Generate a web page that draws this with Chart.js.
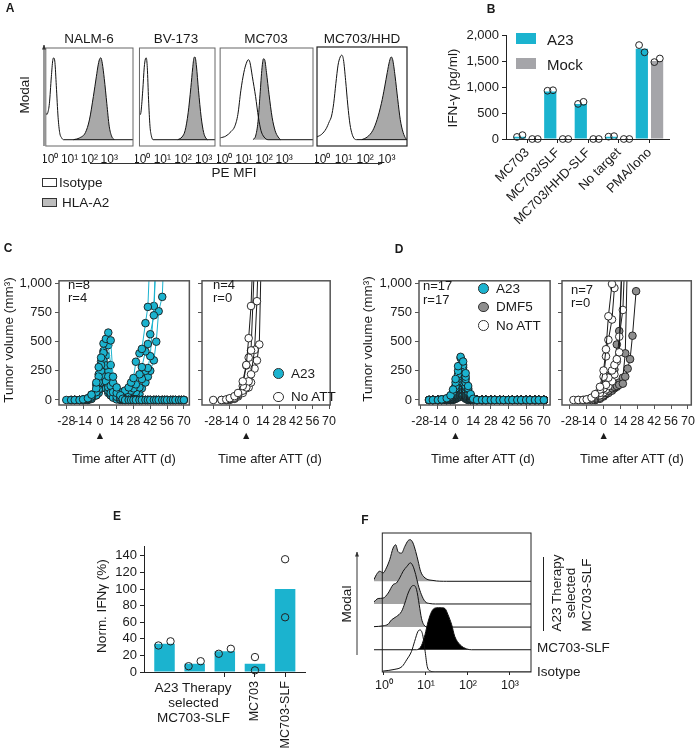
<!DOCTYPE html>
<html>
<head>
<meta charset="utf-8">
<script src="https://cdn.jsdelivr.net/npm/chart.js@4.4.1/dist/chart.umd.min.js"></script>
<style>
  body { margin: 0; background: #fff; }
  #fig { position: relative; width: 700px; height: 750px; overflow: hidden;
         font-family: "Liberation Sans", Arial, Helvetica, sans-serif; color: #1a1a1a; }
  #fig canvas { position: absolute; }
  .t { position: absolute; white-space: nowrap; line-height: 1; }
  .sw { position: absolute; box-sizing: border-box; }
</style>
</head>
<body>
<div id="fig">
<svg width="700" height="750" style="position:absolute;left:0;top:0;z-index:2">
  <defs>
    <marker id="ah" viewBox="0 0 10 10" refX="9" refY="5" markerWidth="5" markerHeight="5" orient="auto">
      <path d="M0,1 L10,5 L0,9 z" fill="#333"/>
    </marker>
  </defs>
  <line x1="44" y1="146" x2="44" y2="45" stroke="#333" stroke-width="1" marker-end="url(#ah)"/>
  <line x1="90" y1="163.5" x2="382" y2="163.5" stroke="#333" stroke-width="1" marker-end="url(#ah)"/>
  <line x1="357" y1="655" x2="357" y2="552" stroke="#333" stroke-width="1" marker-end="url(#ah)"/>
  <line x1="543.5" y1="557" x2="543.5" y2="631" stroke="#222" stroke-width="1"/>
</svg>
</div>
<script>
// ---------- data ----------

// A: flow histograms, x = log10(PE MFI), y = % of mode
const histTitles = ['NALM-6', 'BV-173', 'MC703', 'MC703/HHD'];
const isoNALM = [[-0.2,30],[-0.15,28],[-0.1,30],[-0.02,40],[0.08,70],[0.15,88],[0.2,91],[0.26,86],[0.33,60],[0.42,25],[0.5,8],[0.6,2],[0.7,0],[4.2,0]];
const hlaNALM = [[1.2,0],[1.5,2],[1.8,8],[2.0,22],[2.2,48],[2.35,70],[2.45,84],[2.52,90],[2.58,91],[2.65,85],[2.75,68],[2.88,40],[3.0,15],[3.12,4],[3.25,0]];
const isoBV = [[-0.11,30],[-0.07,28],[-0.03,32],[0.05,55],[0.12,80],[0.18,90],[0.22,91],[0.27,80],[0.33,45],[0.4,15],[0.47,4],[0.55,0],[3.55,0]];
const hlaBV = [[1.75,0],[1.95,3],[2.1,10],[2.25,30],[2.38,58],[2.47,80],[2.53,91],[2.58,92],[2.65,82],[2.75,55],[2.88,25],[3.0,8],[3.1,2],[3.18,0]];
const isoMC = [[-0.18,2],[0.1,4],[0.36,9],[0.55,15],[0.7,28],[0.85,55],[1.0,75],[1.12,85],[1.22,89],[1.3,86],[1.42,70],[1.58,48],[1.72,25],[1.85,10],[2.0,3],[2.2,0],[4.43,0]];
const hlaMC = [[1.45,0],[1.58,4],[1.7,20],[1.8,50],[1.9,80],[1.97,90],[2.03,89],[2.12,75],[2.25,50],[2.4,25],[2.55,10],[2.7,3],[2.82,0]];
const isoHHD = [[-0.22,3],[0,6],[0.2,12],[0.35,20],[0.45,26],[0.55,40],[0.65,62],[0.75,82],[0.85,91],[0.92,93],[1.0,88],[1.1,65],[1.2,38],[1.3,17],[1.4,6],[1.5,1],[1.6,0],[3.93,0]];
const hlaHHD = [[1.85,0],[2.1,3],[2.35,10],[2.55,22],[2.75,40],[2.9,58],[3.02,74],[3.12,86],[3.2,91],[3.27,88],[3.38,70],[3.5,45],[3.62,22],[3.75,8],[3.88,1],[3.93,0]];
const decadeTicks = [0, 1, 2, 3];

// B: IFN-gamma release (pg/ml)
const bCats = ['MC703', 'MC703/SLF', 'MC703/HHD-SLF', 'No target', 'PMA/Iono'];
const bA23 = [45, 920, 680, 45, 1750];
const bMock = [0, 0, 0, 0, 1510];
const bA23Reps = [[40, 75], [935, 945], [680, 720], [45, 55], [1820, 1680]];
const bMockReps = [[0, 0], [0, 0], [0, 0], [0, 0], [1490, 1560]];
const bTicks = [0, 500, 1000, 1500, 2000];

// C / D: tumor volume (mm3) per mouse
const dayTicks = [-28, -14, 0, 14, 28, 42, 56, 70];
const volTicks = [0, 250, 500, 750, 1000];

const daysC = [-28,-24,-21,-17,-14,-10,-7,-3,-1,1,3,5,7,9,11,14,17,19,21,24,26,28,30,33,35,38,40,42,45,47,49,52,54,56,59,61,63,66,68,70];
const a23C = [
  [0,0,0,0,5,15,45,150,282,363,484,524,578,511,200,108,40,10,0,0, 0,0,0,0,0,0,0,0,0,0, 0,0,0,0,0,0,0,0,0,0],
  [null,0,0,0,0,10,30,100,200,300,403,500,470,300,148,60,20,5,0,0, 0,0,0,0,0,0,0,0,0,0, 0,0,0,0,0,0,0,0,0,0],
  [null,null,0,0,0,5,20,67,153,250,336,296,202,121,67,27,5,0,0,0, 0,0,0,0,0,0,0,0,0,0, 0,0,0,0,0,0,0,0,0,0],
  [null,null,0,0,0,0,10,40,90,150,202,160,108,60,20,5,0,0,0,0, 0,0,0,0,0,0,0,0,0,0, 0,0,0,0,0,0,0,0,0,0],
  [null,0,0,0,5,15,46,130,220,330,420,380,250,108,60,40,60,70,81,108, 150,188,328,400,438,659,798,1300,null,null, null,null,null,null,null,null,null,null,null,null],
  [null,null,0,0,0,10,30,80,153,200,250,200,121,80,40,20,30,40,50,60, 80,100,134,220,282,417,480,564,726,1300, null,null,null,null,null,null,null,null,null,null],
  [null,null,null,0,0,5,20,60,100,150,180,148,80,40,27,10,20,27,40,50, 60,67,67,108,180,250,274,376,806,1300, null,null,null,null,null,null,null,null,null,null],
  [null,null,null,null,0,0,10,40,60,100,120,100,60,40,30,20,10,10,15,20, 27,30,40,50,100,150,200,250,340,500, 761,884,1400,null,null,null,null,null,null,null]
];
const daysCn = [-28,-21,-17,-14,-10,-7,-3,0,2,4,7,9,11,13];
const noAttC = [
  [0,0,5,15,33,60,160,300,530,806,1600,null,null,null],
  [null,0,0,10,20,50,120,296,363,425,1200,null,null,null],
  [null,null,0,5,15,40,80,108,160,220,430,847,1500,null],
  [null,null,null,0,10,30,60,100,108,150,269,339,476,1400]
];

const daysD = [-21,-18,-14,-11,-7,-4,-2,0,2,4,6,8,10,12,14,17,21,24,28,31,35,38,42,45,49,52,56,59,63,66,70];
const a23D = [
  [0,0,0,5,15,40,90,180,290,370,330,230,120,50,10, 0,0,0,0,0,0,0,0,0,0,0,0,0,0,0,0],
  [0,0,0,0,10,30,70,150,250,360,300,200,100,40,5, 0,0,0,0,0,0,0,0,0,0,0,0,0,0,0,0],
  [null,0,0,5,10,25,60,120,220,300,280,180,90,30,5, 0,0,0,0,0,0,0,0,0,0,0,0,0,0,0,0],
  [null,0,0,0,10,20,50,100,200,290,230,150,70,20,0, 0,0,0,0,0,0,0,0,0,0,0,0,0,0,0,0],
  [0,0,0,5,10,30,60,120,180,250,200,120,60,15,0, 0,0,0,0,0,0,0,0,0,0,0,0,0,0,0,0],
  [null,null,0,0,5,20,40,90,160,230,180,110,50,10,0, 0,0,0,0,0,0,0,0,0,0,0,0,0,0,0,0],
  [0,0,0,0,5,15,40,80,140,200,150,90,40,10,0, 0,0,0,0,0,0,0,0,0,0,0,0,0,0,0,0],
  [null,0,0,0,5,10,30,70,120,180,140,80,30,5,0, 0,0,0,0,0,0,0,0,0,0,0,0,0,0,0,0],
  [null,null,0,0,5,10,25,60,110,150,130,70,30,5,0, 0,0,0,0,0,0,0,0,0,0,0,0,0,0,0,0],
  [0,0,0,0,0,10,20,50,90,150,120,60,20,0,0, 0,0,0,0,0,0,0,0,0,0,0,0,0,0,0,0],
  [null,0,0,0,0,5,15,40,80,120,100,50,15,0,0, 0,0,0,0,0,0,0,0,0,0,0,0,0,0,0,0],
  [null,null,0,0,0,5,10,30,60,100,80,40,10,0,0, 0,0,0,0,0,0,0,0,0,0,0,0,0,0,0,0],
  [0,0,0,0,0,5,10,25,50,80,60,30,10,0,0, 0,0,0,0,0,0,0,0,0,0,0,0,0,0,0,0],
  [null,0,0,0,0,0,10,20,40,70,50,25,5,0,0, 0,0,0,0,0,0,0,0,0,0,0,0,0,0,0,0],
  [null,null,null,0,0,0,5,15,30,60,40,20,5,0,0, 0,0,0,0,0,0,0,0,0,0,0,0,0,0,0,0],
  [null,0,0,0,0,0,5,10,25,50,30,15,0,0,0, 0,0,0,0,0,0,0,0,0,0,0,0,0,0,0,0],
  [null,null,0,0,0,0,0,10,20,40,25,10,0,0,0, 0,0,0,0,0,0,0,0,0,0,0,0,0,0,0,0]
];
const daysDr = [-25,-21,-17,-14,-10,-7,-3,0,2,4,7,9,11,13,16,18,20,22,24,27];
const noAttD = [
  [0,0,0,5,20,50,113,253,435,718,995,null,null,null,null,null,null,null,null,null],
  [null,0,0,5,15,40,90,200,374,516,690,960,null,null,null,null,null,null,null,null],
  [null,null,null,0,10,30,60,100,130,191,253,300,350,409,1500,null,null,null,null,null],
  [null,null,null,null,0,20,40,65,90,120,160,220,330,543,772,1300,null,null,null,null]
];
const dmf5D = [
  [null,null,null,null,0,10,46,100,154,207,230,261,476,591,1300,null,null,null,null,null],
  [null,null,null,null,null,0,20,40,60,80,100,113,120,130,140,200,269,350,551,933],
  [null,null,null,null,null,0,10,30,50,60,80,100,113,150,191,400,1300,null,null,null]
];

// E: normalised IFN-gamma (%)
const eTickLabels = ['', '', '', 'MC703', 'MC703-SLF'];
const eBars = [34, 10, 25, 10, 100];
const eReps = [[32, 37], [7, 13], [22, 28], [18, 2], [136, 66]];
const eTicks = [0, 20, 40, 60, 80, 100, 120, 140];

// F: stacked histograms, top to bottom (3 therapy-selected clones, MC703-SLF, isotype)
const fTrack1 = [[-0.04,4],[0.015,16],[0.09,24],[0.166,20],[0.24,32],[0.316,52],[0.39,79],[0.45,87],[0.5,71],[0.58,67],[0.655,83],[0.73,97],[0.78,99],[0.84,91],[0.9,71],[0.955,48],[1.01,24],[1.11,8],[1.29,2],[1.6,0],[3.5,0]];
const fTrack2 = [[-0.04,5],[0.053,13],[0.166,14],[0.28,26],[0.39,46],[0.466,50],[0.54,62],[0.617,78],[0.707,90],[0.78,98],[0.84,90],[0.9,70],[0.955,46],[1.03,22],[1.11,6],[1.22,1],[1.35,0],[3.5,0]];
const fTrack3 = [[-0.04,1],[0.166,3],[0.28,7],[0.354,17],[0.466,25],[0.58,37],[0.655,57],[0.73,81],[0.81,97],[0.86,99],[0.92,89],[0.98,53],[1.03,21],[1.08,6],[1.18,0],[3.5,0]];
const fTrack4 = [[-0.04,0],[0.918,0],[1.03,10],[1.11,36],[1.18,67],[1.26,91],[1.33,99],[1.41,100],[1.48,100],[1.56,98],[1.63,83],[1.71,60],[1.78,32],[1.9,12],[2.05,2],[2.16,0],[3.5,0]];
const fIsotype = [[-0.04,2],[0.24,6],[0.43,13],[0.54,29],[0.655,49],[0.73,73],[0.81,97],[0.86,100],[0.92,89],[0.98,49],[1.03,13],[1.11,2],[1.22,0],[3.5,0]];

// ---------- helpers ----------
const cyan = '#1bb3cf', ink = '#1a1a1a', frameGray = '#555';
const sup = ['\u2070', '\u00b9', '\u00b2', '\u00b3'];
Chart.defaults.font.family = '"Liberation Sans", Arial, Helvetica, sans-serif';
Chart.defaults.font.size = 12.5;
Chart.defaults.color = ink;

Chart.register({
  id: 'frame',
  afterDatasetsDraw(chart, args, opt) {
    if (!opt.color) return;
    const {ctx, chartArea: a} = chart;
    ctx.save();
    ctx.strokeStyle = opt.color;
    ctx.lineWidth = opt.width || 1;
    ctx.strokeRect(a.left, a.top, a.right - a.left, a.bottom - a.top);
    ctx.restore();
  }
});

const fig = document.getElementById('fig');

// box = plot area [x, y, w, h]; pad = room for axes [left, right, top, bottom]
function mk(box, pad, cfg) {
  const [x, y, w, h] = box, [l, r, t, b] = pad;
  const cv = document.createElement('canvas');
  cv.width = w + l + r; cv.height = h + t + b;
  cv.style.left = (x - l) + 'px'; cv.style.top = (y - t) + 'px';
  cv.style.width = cv.width + 'px'; cv.style.height = cv.height + 'px';
  fig.appendChild(cv);
  const o = cfg.options;
  o.responsive = false; o.animation = false; o.devicePixelRatio = 1;
  o.layout = {padding: {top: t, right: r, left: 0, bottom: 0}, autoPadding: false};
  o.scales.x.afterFit = s => { s.height = b; };
  o.scales.y.afterFit = s => { s.width = l; };
  o.plugins = Object.assign({legend: {display: false}, tooltip: {enabled: false}}, o.plugins || {});
  return new Chart(cv, cfg);
}
const hiddenAxis = (min, max) => ({type: 'linear', min, max, ticks: {display: false},
  grid: {display: false}, border: {display: false}});
const fixTicks = vals => s => { s.ticks = vals.map(v => ({value: v})); };
const pts = arr => arr.map(([x, y]) => ({x, y}));

function txt(s, x, y, o = {}) {
  const d = document.createElement('div');
  d.className = 't';
  d.textContent = s;
  d.style.left = x + 'px'; d.style.top = y + 'px';
  d.style.fontSize = (o.size || 12.5) + 'px';
  d.style.zIndex = 3;
  if (o.bold) d.style.fontWeight = 'bold';
  d.style.transform = 'translate(' + (o.left ? '0' : '-50%') + ',-50%)' + (o.rot ? ' rotate(-90deg)' : '');
  fig.appendChild(d);
}
function swatch(x, y, w, h, bg, border, round) {
  const d = document.createElement('div');
  d.className = 'sw';
  Object.assign(d.style, {left: x + 'px', top: y + 'px', width: w + 'px', height: h + 'px',
    background: bg, zIndex: 3, border: border ? '1px solid #333' : 'none',
    borderRadius: round ? '50%' : '0'});
  fig.appendChild(d);
}

// ---------- A ----------
function histA(box, xmin, xmax, iso, hla, fcol, fw) {
  return mk(box, [2, 8, 2, 20], {
    type: 'scatter',
    data: {datasets: [
      {data: pts(iso), showLine: true, borderColor: '#111', borderWidth: 1, pointRadius: 0,
       fill: false, cubicInterpolationMode: 'monotone'},
      {data: pts(hla), showLine: true, borderColor: '#111', borderWidth: 1, pointRadius: 0,
       fill: 'origin', backgroundColor: '#a9a9a9', cubicInterpolationMode: 'monotone'}
    ]},
    options: {
      scales: {
        x: {type: 'linear', min: xmin, max: xmax, afterBuildTicks: fixTicks(decadeTicks),
            ticks: {padding: -2, maxRotation: 0, autoSkip: false, font: {size: 12},
                    callback: v => '10' + sup[v]},
            grid: {display: false}, border: {display: false}},
        y: hiddenAxis(-7, 102)
      },
      plugins: {frame: {color: fcol, width: fw}}
    }
  });
}
histA([45, 48, 88, 98], -0.2, 4.2, isoNALM, hlaNALM, '#666', 1);
histA([137, 48, 78, 98], -0.11, 3.55, isoBV, hlaBV, '#666', 1);
histA([219, 48, 94, 98], -0.18, 4.43, isoMC, hlaMC, '#666', 1);
histA([317, 47, 90, 99], -0.22, 3.93, isoHHD, hlaHHD, '#222', 1.2);

// ---------- B ----------
const bShift = [-0.25, 0.25], bJit = [-0.09, 0.09];
const repPoints = (reps, shift, jit) => reps.flatMap((r, i) => r.map((v, j) => ({x: i + shift + jit[j], y: v})));
const circ = {type: 'scatter', pointRadius: 3.4, pointBorderWidth: 1, pointBorderColor: '#222',
              pointBackgroundColor: 'rgba(0,0,0,0)', clip: false, order: 0};
mk([506, 31, 163, 108], [50, 8, 6, 100], {
  type: 'bar',
  data: {datasets: [
    Object.assign({data: repPoints(bA23Reps, bShift[0], bJit)}, circ),
    Object.assign({data: repPoints(bMockReps, bShift[1], bJit)}, circ),
    {label: 'A23', data: bA23.map((v, i) => ({x: i, y: v})), backgroundColor: cyan, order: 1,
     barPercentage: 0.8, categoryPercentage: 1},
    {label: 'Mock', data: bMock.map((v, i) => ({x: i, y: v})), backgroundColor: '#a5a5a9', order: 1,
     barPercentage: 0.8, categoryPercentage: 1}
  ]},
  options: {
    scales: {
      x: {type: 'linear', min: -0.7, max: 4.64, offset: false, afterBuildTicks: fixTicks([0, 1, 2, 3, 4]),
          ticks: {padding: 2, minRotation: 45, maxRotation: 45, autoSkip: false, font: {size: 13},
                  callback: v => bCats[v]},
          grid: {offset: false, drawOnChartArea: false, tickLength: 4, color: '#222'},
          border: {display: true, color: '#222', width: 1}},
      y: {type: 'linear', min: 0, max: 2000, afterBuildTicks: fixTicks(bTicks),
          ticks: {padding: 3, autoSkip: false, font: {size: 13}, callback: v => v.toLocaleString('en-US')},
          grid: {drawOnChartArea: false, tickLength: 4, color: '#222'},
          border: {display: true, color: '#222', width: 1}}
    }
  }
});

// ---------- C / D ----------
function mice(days, groups, fill, line) {
  return groups.map(v => ({
    data: days.map((d, i) => ({x: d, y: v[i]})).filter(p => p.y !== null),
    showLine: true, borderColor: line, borderWidth: 1,
    pointRadius: 3.8, pointBackgroundColor: fill, pointBorderColor: '#1a1a1a', pointBorderWidth: 0.9,
    clip: {left: 8, right: 8, top: 0, bottom: 8}
  }));
}
function timePlot(box, xmin, xmax, showY, sets) {
  return mk(box, [42, 5, 3, 34], {
    type: 'scatter',
    data: {datasets: sets},
    options: {
      scales: {
        x: {type: 'linear', min: xmin, max: xmax, afterBuildTicks: fixTicks(dayTicks),
            ticks: {padding: 5, maxRotation: 0, autoSkip: false,
                    callback: v => v === 0 ? ['0', '\u25b2'] : String(v)},
            grid: {drawOnChartArea: false, tickLength: 4, color: frameGray},
            border: {display: false}},
        y: {type: 'linear', min: -43, max: 1022, afterBuildTicks: fixTicks(volTicks),
            ticks: {padding: 3, autoSkip: false, font: {size: 13},
                    callback: v => showY ? v.toLocaleString('en-US') : ''},
            grid: {drawOnChartArea: false, tickLength: 4, color: frameGray},
            border: {display: false}}
      },
      plugins: {frame: {color: frameGray, width: 1.5}}
    }
  });
}
timePlot([59, 273, 132, 132], -34.1, 74.6, true, mice(daysC, a23C, cyan, cyan));
timePlot([202, 273, 134, 132], -37.5, 71.0, false, mice(daysCn, noAttC, '#fff', ink));
timePlot([419, 273, 132, 132], -29, 75, true, mice(daysD, a23D, cyan, cyan));
timePlot([562, 273, 133, 132], -34.5, 72.8, false,
  mice(daysDr, noAttD, '#fff', ink).concat(mice(daysDr, dmf5D, '#8e8e8e', ink)));

// ---------- E ----------
const eJit = [[-0.2, 0.2], [-0.2, 0.2], [-0.2, 0.2], [0, 0], [0, 0]];
mk([144, 540, 161, 132], [40, 6, 4, 76], {
  type: 'bar',
  data: {datasets: [
    Object.assign({data: eReps.flatMap((r, i) => r.map((v, j) => ({x: i + eJit[i][j], y: v})))}, circ, {pointRadius: 3.7}),
    {data: eBars.map((v, i) => ({x: i, y: v})), backgroundColor: cyan, order: 1,
     barPercentage: 0.68, categoryPercentage: 1}
  ]},
  options: {
    scales: {
      x: {type: 'linear', min: -0.68, max: 4.66, offset: false, afterBuildTicks: fixTicks([2, 3, 4]),
          ticks: {padding: 4, minRotation: 90, maxRotation: 90, autoSkip: false,
                  callback: v => eTickLabels[v]},
          grid: {offset: false, drawOnChartArea: false, tickLength: 5, color: '#222'},
          border: {display: true, color: '#222', width: 1}},
      y: {type: 'linear', min: 0, max: 151, afterBuildTicks: fixTicks(eTicks),
          ticks: {padding: 3, autoSkip: false, font: {size: 13}},
          grid: {drawOnChartArea: false, tickLength: 4, color: '#222'},
          border: {display: true, color: '#222', width: 1}}
    }
  }
});

// ---------- F ----------
const fTracks = [
  {data: fTrack1, min: -216, fill: '#a3a3a3'},
  {data: fTrack2, min: -162, fill: '#a3a3a3'},
  {data: fTrack3, min: -107, fill: '#a3a3a3'},
  {data: fTrack4, min: -53, fill: '#000'},
  {data: fIsotype, min: 0, fill: null}
];
fTracks.forEach((tr, k) => {
  const last = k === fTracks.length - 1;
  mk([374, 533, 157, 139], [2, 6, 2, 22], {
    type: 'scatter',
    data: {datasets: [{data: pts(tr.data), showLine: true, borderColor: '#111', borderWidth: 1,
      pointRadius: 0, cubicInterpolationMode: 'monotone',
      fill: tr.fill ? 'origin' : false, backgroundColor: tr.fill || 'rgba(0,0,0,0)'}]},
    options: {
      scales: {
        x: last ? {type: 'linear', min: -0.04, max: 3.5, afterBuildTicks: fixTicks(decadeTicks),
                   ticks: {padding: 3, maxRotation: 0, autoSkip: false, callback: v => '10' + sup[v]},
                   grid: {drawOnChartArea: false, tickLength: 3, color: '#222'},
                   border: {display: false}}
                : hiddenAxis(-0.04, 3.5),
        y: hiddenAxis(tr.min, tr.min + 331)
      },
      plugins: {frame: {color: last ? '#222' : null, width: 1}}
    }
  });
});

// ---------- text ----------
[['A', 10, 8], ['B', 491, 9], ['C', 8, 248], ['D', 399, 249], ['E', 117, 516], ['F', 365, 520]]
  .forEach(([s, x, y]) => txt(s, x, y, {bold: true, size: 12}));

histTitles.forEach((s, i) => txt(s, [89, 176, 266, 362][i], 38.5, {size: 13.5}));
txt('Modal', 25, 95, {rot: true, size: 13.5});
txt('PE MFI', 234, 173, {size: 13.5});
swatch(42, 178, 15, 9, '#fff', true);
txt('Isotype', 59, 182.5, {left: true, size: 13.5});
swatch(42, 198, 15, 9, '#bdbdbd', true);
txt('HLA-A2', 62, 202.5, {left: true, size: 13.5});

txt('IFN-\u03b3 (pg/ml)', 453, 88, {rot: true, size: 13.5});
swatch(516, 33, 20, 11, cyan);
txt('A23', 547, 38.5, {left: true, size: 15});
swatch(516, 58, 20, 11, '#a5a5a9');
txt('Mock', 547, 63.5, {left: true, size: 15});

txt('Tumor volume (mm\u00b3)', 9, 340, {rot: true, size: 13.5});
txt('n=8', 68, 283.5, {left: true, size: 13});
txt('r=4', 68, 297, {left: true, size: 13});
txt('n=4', 213, 283.5, {left: true, size: 13});
txt('r=0', 213, 297, {left: true, size: 13});
swatch(273, 368, 10.5, 10.5, cyan, true, true);
txt('A23', 291, 373.5, {left: true, size: 13.5});
swatch(273, 391.5, 10.5, 10.5, '#fff', true, true);
txt('No ATT', 291, 397, {left: true, size: 13.5});
txt('Time after ATT (d)', 124, 457.5, {size: 13});
txt('Time after ATT (d)', 270, 457.5, {size: 13});

txt('Tumor volume (mm\u00b3)', 368, 339, {rot: true, size: 13.5});
txt('n=17', 423, 285, {left: true, size: 13});
txt('r=17', 423, 299, {left: true, size: 13});
txt('n=7', 571, 289, {left: true, size: 13});
txt('r=0', 571, 302, {left: true, size: 13});
swatch(478, 283, 10.5, 10.5, cyan, true, true);
txt('A23', 496, 288.5, {left: true, size: 13.5});
swatch(478, 301.5, 10.5, 10.5, '#8e8e8e', true, true);
txt('DMF5', 496, 307, {left: true, size: 13.5});
swatch(478, 320, 10.5, 10.5, '#fff', true, true);
txt('No ATT', 496, 325.5, {left: true, size: 13.5});
txt('Time after ATT (d)', 483, 457.5, {size: 13});
txt('Time after ATT (d)', 632, 457.5, {size: 13});

txt('Norm. IFN\u03b3 (%)', 102, 606, {rot: true, size: 13.5});
txt('A23 Therapy', 193, 688, {size: 13.5});
txt('selected', 193.5, 703, {size: 13.5});
txt('MC703-SLF', 193.5, 718, {size: 13.5});

txt('Modal', 347, 604, {rot: true, size: 13.5});
txt('A23 Therapy', 556.5, 592.5, {rot: true, size: 13.5});
txt('selected', 571, 593, {rot: true, size: 13.5});
txt('MC703-SLF', 587, 595, {rot: true, size: 13.5});
txt('MC703-SLF', 537, 648, {left: true, size: 13.5});
txt('Isotype', 537, 672, {left: true, size: 13.5});
</script>
</body>
</html>
